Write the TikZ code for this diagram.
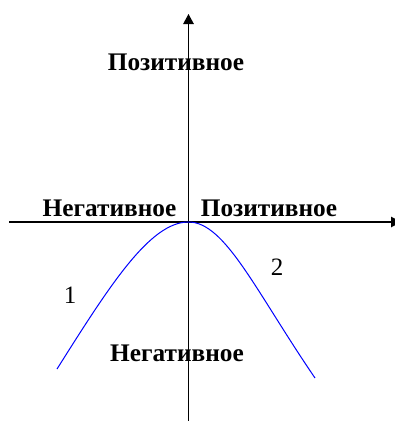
\documentclass[tikz,border=0pt]{standalone}
\usepackage{fontspec}
\setmainfont{Liberation Serif}
\usetikzlibrary{arrows.meta}

\begin{document}
\begin{tikzpicture}[x=1pt, y=-1pt,
	axis/.style={line width=1.2pt, -{Triangle[length=10pt, width=10.5pt]}},
	curve/.style={blue, line width=1pt},
	lbl/.style={font=\fontsize{25.3}{29}\selectfont\bfseries, anchor=base, inner sep=0pt},
	num/.style={font=\fontsize{25}{29}\selectfont, anchor=base, inner sep=0pt}]
		\useasboundingbox (0,0) rectangle (395,421);
		\coordinate (O) at (188.5,222);
		\coordinate (xs) at (9,222);
		\coordinate (xe) at (401,222);
		\coordinate (ys) at (188.5,421);
		\coordinate (ye) at (188.5,14);
		\coordinate (L) at (57,369);
		\coordinate (R) at (315,378);
		\draw[axis] (xs)--(xe);
		\draw[axis] (ys)--(ye);
		\draw[curve] (L) .. controls (110,285) and (150,222) .. (O)
			.. controls (225,222) and (255,290) .. (R);
		\node[lbl] (topPos) at (176,70) {Позитивное};
		\node[lbl] (leftNeg) at (109.5,216) {Негативное};
		\node[lbl] (rightPos) at (269,216) {Позитивное};
		\node[lbl] (botNeg) at (177,361) {Негативное};
		\node[num] (one) at (70,303) {1};
		\node[num] (two) at (277,275) {2};
	\end{tikzpicture}
\end{document}
